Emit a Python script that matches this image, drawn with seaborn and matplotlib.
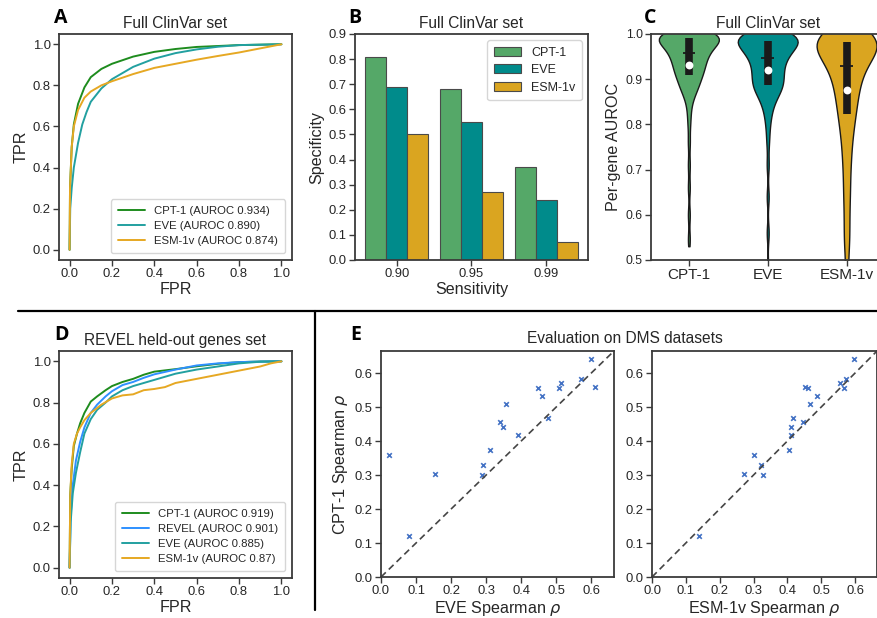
import numpy as np
import pandas as pd
import matplotlib
matplotlib.use("Agg")
import matplotlib.pyplot as plt
import seaborn as sns
from matplotlib.lines import Line2D

sns.set_theme(style="ticks")
plt.rcParams['font.family'] = ['Liberation Sans', 'DejaVu Sans']
plt.rcParams['axes.edgecolor'] = '#3a3a3a'
plt.rcParams['axes.linewidth'] = 1.3

# ---------------- data ----------------
models = ["CPT-1", "EVE", "ESM-1v"]
model_colors = ["#55A868", "#008B8B", "#DAA520"]

# Panel A ROC (Full ClinVar set)
a_cpt_fpr = [0, 0.002, 0.01, 0.02, 0.04, 0.07, 0.1, 0.15, 0.2, 0.3, 0.4, 0.5, 0.6, 0.8, 1.0]
a_cpt_tpr = [0, 0.30, 0.50, 0.61, 0.71, 0.79, 0.84, 0.88, 0.905, 0.94, 0.963, 0.977, 0.987, 0.996, 1.0]
a_eve_fpr = [0, 0.003, 0.01, 0.02, 0.04, 0.06, 0.08, 0.1, 0.15, 0.2, 0.3, 0.4, 0.5, 0.6, 0.7, 0.8, 1.0]
a_eve_tpr = [0, 0.20, 0.30, 0.40, 0.52, 0.61, 0.67, 0.72, 0.785, 0.83, 0.89, 0.93, 0.957, 0.975, 0.988, 0.996, 1.0]
a_esm_fpr = [0, 0.002, 0.01, 0.02, 0.04, 0.07, 0.1, 0.15, 0.2, 0.3, 0.4, 0.5, 0.6, 0.7, 0.8, 0.9, 1.0]
a_esm_tpr = [0, 0.30, 0.50, 0.60, 0.68, 0.74, 0.77, 0.80, 0.82, 0.855, 0.885, 0.905, 0.925, 0.943, 0.96, 0.98, 1.0]
a_labels = ["CPT-1 (AUROC 0.934)", "EVE (AUROC 0.890)", "ESM-1v (AUROC 0.874)"]
a_colors = ["#1E8C1E", "#22A0A0", "#E6A823"]

# Panel B specificity at fixed sensitivity
sensitivity = ["0.90", "0.95", "0.99"]
spec_cpt = [0.81, 0.68, 0.37]
spec_eve = [0.69, 0.55, 0.24]
spec_esm = [0.50, 0.27, 0.07]

# Panel C per-gene AUROC (estimated distribution values)
auroc_cpt = [0.545, 0.60, 0.66, 0.71, 0.76, 0.80, 0.825, 0.845, 0.857, 0.867,
             0.872, 0.877, 0.881, 0.885, 0.889, 0.893, 0.897, 0.90, 0.904, 0.907,
             0.911, 0.913, 0.916, 0.918, 0.921, 0.923, 0.926, 0.928, 0.931, 0.933,
             0.936, 0.938, 0.941, 0.943, 0.946, 0.948, 0.951, 0.953, 0.955, 0.957,
             0.959, 0.961, 0.963, 0.964, 0.966, 0.968, 0.970, 0.971, 0.973, 0.975,
             0.977, 0.978, 0.980, 0.982, 0.984, 0.985, 0.987, 0.989, 0.991, 0.992,
             0.993, 0.994, 0.994, 0.995, 0.995, 0.996, 0.996, 0.997, 0.997, 0.998,
             0.998, 0.999, 0.999, 1.0, 1.0, 1.0, 1.0, 1.0, 1.0, 1.0]
auroc_eve = [0.47, 0.56, 0.64, 0.71, 0.76, 0.79, 0.81, 0.825, 0.835, 0.845,
             0.852, 0.858, 0.863, 0.868, 0.872, 0.876, 0.879, 0.881, 0.883, 0.885,
             0.889, 0.892, 0.895, 0.898, 0.901, 0.904, 0.907, 0.910, 0.913, 0.916,
             0.919, 0.922, 0.925, 0.928, 0.931, 0.934, 0.937, 0.940, 0.944, 0.947,
             0.949, 0.951, 0.953, 0.955, 0.957, 0.959, 0.961, 0.963, 0.965, 0.967,
             0.969, 0.971, 0.973, 0.975, 0.976, 0.978, 0.980, 0.981, 0.983, 0.984,
             0.986, 0.987, 0.988, 0.989, 0.990, 0.991, 0.992, 0.993, 0.994, 0.995,
             0.996, 0.997, 0.998, 0.999, 1.0, 1.0, 1.0, 1.0, 1.0, 1.0]
auroc_esm = [0.45, 0.53, 0.58, 0.63, 0.67, 0.71, 0.74, 0.77, 0.79, 0.81,
             0.826, 0.84, 0.853, 0.866, 0.878, 0.889, 0.899, 0.909, 0.918, 0.927,
             0.933, 0.94, 0.947, 0.953, 0.958, 0.963, 0.968, 0.972, 0.976, 0.981,
             0.983, 0.985, 0.987, 0.99, 0.992, 0.995, 0.997, 1.0, 1.0, 1.0]

# Panel D ROC (REVEL held-out genes set)
d_cpt_fpr = [0, 0.003, 0.01, 0.02, 0.035, 0.05, 0.07, 0.1, 0.13, 0.17, 0.2, 0.25, 0.3, 0.35, 0.4, 0.5, 0.6, 0.7, 0.8, 0.9, 1.0]
d_cpt_tpr = [0, 0.35, 0.48, 0.59, 0.65, 0.70, 0.75, 0.805, 0.83, 0.86, 0.88, 0.90, 0.915, 0.935, 0.95, 0.962, 0.976, 0.988, 0.996, 0.999, 1.0]
d_rev_fpr = [0, 0.005, 0.015, 0.03, 0.05, 0.07, 0.1, 0.13, 0.17, 0.2, 0.25, 0.3, 0.35, 0.4, 0.5, 0.6, 0.7, 0.8, 0.9, 1.0]
d_rev_tpr = [0, 0.25, 0.40, 0.52, 0.61, 0.68, 0.75, 0.79, 0.83, 0.855, 0.885, 0.90, 0.92, 0.937, 0.96, 0.98, 0.99, 0.996, 0.999, 1.0]
d_eve_fpr = [0, 0.005, 0.015, 0.03, 0.05, 0.07, 0.1, 0.13, 0.17, 0.2, 0.25, 0.3, 0.35, 0.4, 0.5, 0.6, 0.7, 0.8, 0.9, 1.0]
d_eve_tpr = [0, 0.22, 0.36, 0.46, 0.56, 0.65, 0.72, 0.765, 0.80, 0.83, 0.86, 0.88, 0.895, 0.91, 0.94, 0.96, 0.975, 0.99, 0.998, 1.0]
d_esm_fpr = [0, 0.003, 0.01, 0.02, 0.035, 0.05, 0.07, 0.1, 0.15, 0.2, 0.25, 0.3, 0.35, 0.4, 0.45, 0.5, 0.6, 0.7, 0.8, 0.9, 0.95, 1.0]
d_esm_tpr = [0, 0.35, 0.50, 0.60, 0.65, 0.68, 0.715, 0.75, 0.79, 0.82, 0.835, 0.84, 0.86, 0.866, 0.875, 0.895, 0.915, 0.935, 0.955, 0.975, 0.99, 1.0]
d_labels = ["CPT-1 (AUROC 0.919)", "REVEL (AUROC 0.901)", "EVE (AUROC 0.885)", "ESM-1v (AUROC 0.87)"]
d_colors = ["#1E8C1E", "#2E90FF", "#22A0A0", "#E6A823"]

# Panel E DMS Spearman correlations
dms_cpt = [0.360, 0.120, 0.304, 0.300, 0.331, 0.375, 0.457, 0.440, 0.508, 0.417,
           0.555, 0.534, 0.468, 0.555, 0.570, 0.584, 0.640, 0.559]
dms_eve = [0.023, 0.081, 0.155, 0.289, 0.291, 0.311, 0.340, 0.349, 0.356, 0.390,
           0.447, 0.460, 0.476, 0.509, 0.515, 0.570, 0.600, 0.611]
dms_esm = [0.302, 0.138, 0.272, 0.327, 0.323, 0.406, 0.447, 0.411, 0.467, 0.412,
           0.462, 0.487, 0.416, 0.568, 0.557, 0.574, 0.597, 0.452]

# ---------------- figure ----------------
W, H = 877, 618
fig = plt.figure(figsize=(W / 100, H / 100), dpi=100)


def px_axes(l, t, r, b):
    return fig.add_axes([l / W, 1 - b / H, (r - l) / W, (b - t) / H])


TICK = 9.4
LAB = 11.6
TIT = 11.2
LEG = 8.2


def style(ax, tick=TICK):
    ax.tick_params(labelsize=tick, length=4, width=1, color='#3a3a3a', labelcolor='#262626', pad=2)
    ax.xaxis.label.set_size(LAB)
    ax.yaxis.label.set_size(LAB)


def roc_panel(ax, fprs, tprs, labels, colors, title):
    rows = []
    for f, t, lab in zip(fprs, tprs, labels):
        for fi, ti in zip(f, t):
            rows.append((fi, ti, lab))
    df = pd.DataFrame(rows, columns=["FPR", "TPR", "model"])
    sns.lineplot(data=df, x="FPR", y="TPR", hue="model", hue_order=labels,
                 palette=colors, estimator=None, sort=False, lw=1.4, ax=ax)
    ax.set_xlim(-0.05, 1.05)
    ax.set_ylim(-0.05, 1.05)
    ax.set_xticks(np.arange(0, 1.01, 0.2))
    ax.set_yticks(np.arange(0, 1.01, 0.2))
    ax.set_xlabel("FPR", labelpad=1)
    ax.set_ylabel("TPR", labelpad=3)
    ax.set_title(title, fontsize=TIT, pad=4)
    leg = ax.legend(loc="lower right", fontsize=LEG, frameon=True, handlelength=2.4,
                    borderpad=0.6, labelspacing=0.45, borderaxespad=0.6)
    leg.get_frame().set_edgecolor('#cccccc')
    style(ax)


# Panel A
axA = px_axes(59, 34, 292, 260)
roc_panel(axA, [a_cpt_fpr, a_eve_fpr, a_esm_fpr], [a_cpt_tpr, a_eve_tpr, a_esm_tpr],
          a_labels, a_colors, "Full ClinVar set")

# Panel B
axB = px_axes(355, 34, 588, 260)
dfB = pd.DataFrame({
    "Sensitivity": sensitivity * 3,
    "Specificity": spec_cpt + spec_eve + spec_esm,
    "model": [m for m in models for _ in sensitivity],
})
sns.barplot(data=dfB, x="Sensitivity", y="Specificity", hue="model", hue_order=models,
            palette=model_colors, saturation=1, width=0.84, edgecolor="#4a4a4a",
            linewidth=0.8, ax=axB)
axB.set_xlim(-0.56, 2.56)
axB.set_ylim(0, 0.9)
axB.set_yticks(np.arange(0, 0.91, 0.1))
axB.set_xlabel("Sensitivity", labelpad=1)
axB.set_ylabel("Specificity", labelpad=3)
axB.set_title("Full ClinVar set", fontsize=TIT, pad=4)
legB = axB.legend(loc="upper right", fontsize=LEG + 0.8, frameon=True, title=None,
                  handlelength=2.2, borderpad=0.5, labelspacing=0.45)
legB.get_frame().set_edgecolor('#cccccc')
style(axB)

# Panel C
axC = px_axes(651, 34, 886, 260)
dfC = pd.DataFrame({
    "model": [models[0]] * len(auroc_cpt) + [models[1]] * len(auroc_eve) + [models[2]] * len(auroc_esm),
    "auroc": auroc_cpt + auroc_eve + auroc_esm,
})
sns.violinplot(data=dfC, x="model", y="auroc", hue="model", order=models, hue_order=models,
               palette=model_colors, saturation=1, cut=0.8, inner=None, density_norm="width",
               width=0.76, linewidth=1.0, linecolor="#1a1a1a", bw_adjust=0.5, legend=False, ax=axC)
for i, vals in enumerate([auroc_cpt, auroc_eve, auroc_esm]):
    q1, med, q3 = np.percentile(vals, [25, 50, 75])
    mean = np.mean(vals)
    axC.vlines(i, q1, q3, lw=5.5, color="#1a1a1a", zorder=3)
    axC.hlines(med, i - 0.08, i + 0.08, lw=1.3, color="#1a1a1a", zorder=4)
    axC.scatter([i], [mean], s=32, color="white", zorder=5, linewidths=0)
axC.set_ylim(0.5, 1.0)
axC.set_xlim(-0.48, 2.5)
axC.set_yticks(np.arange(0.5, 1.01, 0.1))
axC.set_xlabel("")
axC.set_ylabel("Per-gene AUROC", labelpad=3)
axC.set_title("Full ClinVar set", fontsize=TIT, pad=4)
style(axC, tick=8.8)
axC.tick_params(axis='x', labelsize=11)

# Panel D
axD = px_axes(59, 351, 292, 578)
roc_panel(axD, [d_cpt_fpr, d_rev_fpr, d_eve_fpr, d_esm_fpr],
          [d_cpt_tpr, d_rev_tpr, d_eve_tpr, d_esm_tpr],
          d_labels, d_colors, "REVEL held-out genes set")

# Panel E
for (l, r, xs, xl, ylab) in [(381, 614, dms_eve, r"EVE Spearman $\rho$", r"CPT-1 Spearman $\rho$"),
                             (652, 877, dms_esm, r"ESM-1v Spearman $\rho$", None)]:
    ax = px_axes(l, 351, r, 577)
    sns.scatterplot(x=xs, y=dms_cpt, marker="x", color="#4472C4", s=11, linewidth=1.2, ax=ax)
    ax.axline((0, 0), slope=1, ls=(0, (4, 2.5)), color="#454545", lw=1.2, zorder=1)
    ax.set_xlim(0, 0.665)
    ax.set_ylim(0, 0.665)
    ax.set_xticks(np.arange(0, 0.61, 0.1))
    ax.set_yticks(np.arange(0, 0.61, 0.1))
    ax.set_xlabel(xl, labelpad=1)
    if ylab:
        ax.set_ylabel(ylab, labelpad=3)
    style(ax)

fig.text(625 / W, 1 - 338 / H, "Evaluation on DMS datasets", ha="center", va="center",
         fontsize=TIT, color="#262626")

# Panel letters
for letter, x, y in [("A", 61, 18), ("B", 355, 18), ("C", 650, 18), ("D", 61, 335), ("E", 356, 335)]:
    fig.text(x / W, 1 - y / H, letter, ha="center", va="center", fontsize=14,
             fontweight="bold", family=["Open Sans", "DejaVu Sans"], color="black")

# Separators
fig.add_artist(Line2D([18 / W, 1], [1 - 311 / H, 1 - 311 / H], color="black", lw=1.6,
                      transform=fig.transFigure))
fig.add_artist(Line2D([315 / W, 315 / W], [1 - 311 / H, 1 - 610 / H], color="black", lw=1.6,
                      transform=fig.transFigure))

fig.savefig("out.png", dpi=100)
